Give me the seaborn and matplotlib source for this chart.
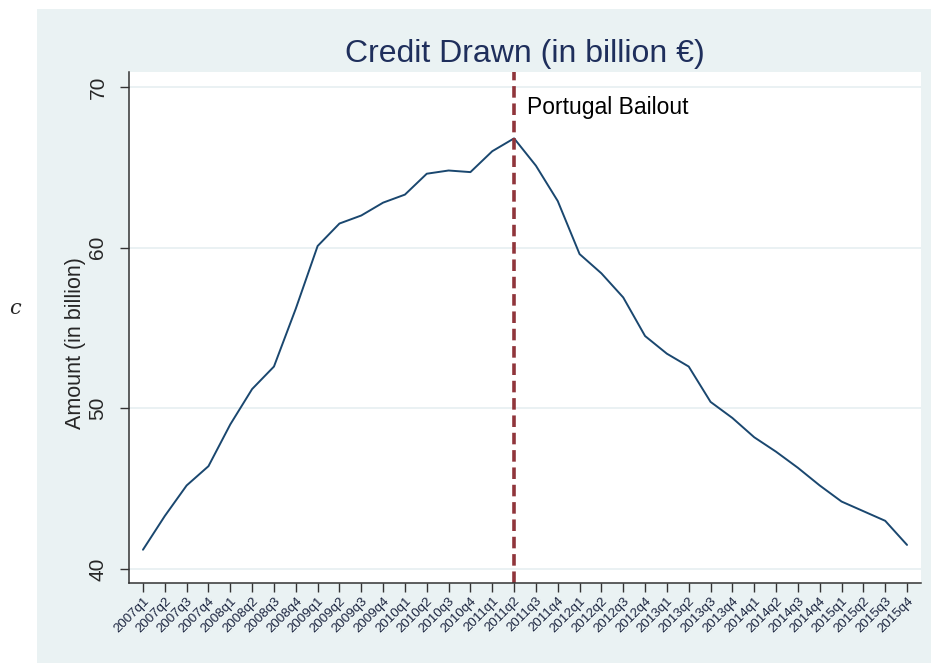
import matplotlib
matplotlib.use("Agg")
import matplotlib.pyplot as plt
import seaborn as sns
import pandas as pd
from matplotlib.patches import Rectangle

# Credit drawn per quarter (billion EUR)
quarters = [f"{y}q{q}" for y in range(2007, 2016) for q in range(1, 5)]
amount = [41.2, 43.3, 45.2, 46.4, 49.0, 51.2, 52.6, 56.2,
          60.1, 61.5, 62.0, 62.8, 63.3, 64.6, 64.8, 64.7,
          66.0, 66.8, 65.1, 62.9, 59.6, 58.4, 56.9, 54.5,
          53.4, 52.6, 50.4, 49.4, 48.2, 47.3, 46.3, 45.2,
          44.2, 43.6, 43.0, 41.5]
bailout = "2011q2"
y_ticks = [40, 50, 60, 70]

df = pd.DataFrame({"quarter": quarters, "amount": amount})
df["pos"] = range(len(df))

sns.set_style("white")
plt.rcParams["font.family"] = ["Liberation Sans", "DejaVu Sans"]

fig = plt.figure(figsize=(9.31, 6.63), dpi=100, facecolor="white")
# Stata style outer panel, drawn below the axes
fig.patches.append(Rectangle((37 / 931, 0), 894 / 931, 654 / 663,
                             transform=fig.transFigure, facecolor="#eaf2f3",
                             edgecolor="none", zorder=-10))
ax = fig.add_axes([129 / 931, 80 / 663, 792 / 931, 511 / 663])
ax.set_facecolor("white")

for y in y_ticks:
    ax.axhline(y, color="#e6eff1", lw=1.2, zorder=0)

sns.lineplot(data=df, x="pos", y="amount", ax=ax, color="#1a476f", lw=1.4)

bx = quarters.index(bailout)
ax.axvline(bx, color="#90353b", lw=2.6, ls=(0, (3.2, 1.6)))
ax.text(bx + 0.6, 68.7, "Portugal Bailout", fontsize=16.5, color="black",
        ha="left", va="center")

ax.set_xlim(-0.64, len(quarters) - 1 + 0.64)
ax.set_ylim(39.13, 70.93)
ax.set_xticks(df["pos"])
ax.set_xticklabels(quarters, rotation=45, ha="right", rotation_mode="anchor",
                   fontsize=9.6, color="#1c2540")
ax.set_yticks(y_ticks)
ax.set_yticklabels([str(v) for v in y_ticks], rotation=90, va="center",
                   fontsize=15)
ax.tick_params(axis="both", direction="out", length=6.5, width=1, color="#333333",
               bottom=True, left=True)
ax.tick_params(axis="x", pad=2)
ax.tick_params(axis="y", pad=9)

for s in ["top", "right"]:
    ax.spines[s].set_visible(False)
for s in ["left", "bottom"]:
    ax.spines[s].set_color("#333333")
    ax.spines[s].set_linewidth(1.1)

ax.set_xlabel("")
ax.set_ylabel("Amount (in billion)", fontsize=15.5, va="center")
ax.yaxis.set_label_coords(-0.067, 0.47)
ax.set_title("Credit Drawn (in billion €)", fontsize=23, color="#1f2f5c", pad=7)

fig.text(15 / 931, 1 - 308 / 663, "c", fontsize=15, fontstyle="italic",
         family="DejaVu Serif", ha="center", va="center")

fig.savefig("out.png", dpi=100, facecolor="white")
